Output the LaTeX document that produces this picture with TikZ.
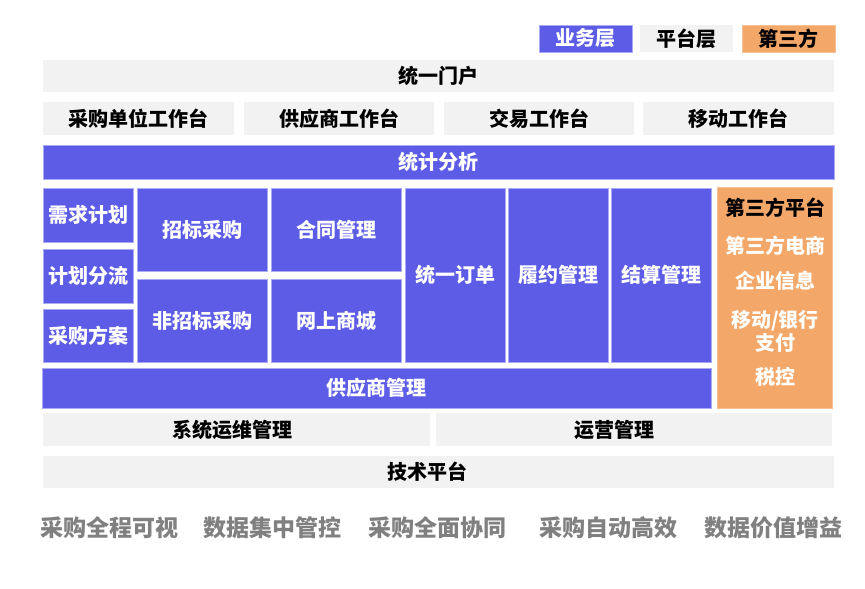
\documentclass[tikz,border=0pt]{standalone}
\usepackage{fontspec}
\setmainfont{Noto Sans CJK SC}[BoldFont={Noto Sans CJK SC Black}]
\definecolor{bizc}{RGB}{92,92,230}
\definecolor{platc}{RGB}{242,242,242}
\definecolor{thirdc}{RGB}{243,167,104}
\definecolor{notec}{RGB}{128,128,128}
\definecolor{edgec}{RGB}{170,170,245}
\newcommand\lab{\fontsize{20}{23}\selectfont\bfseries}
\newcommand\blk[7]{\node[#1,minimum width={(#4-#2)*1pt},minimum height={(#5-#3)*1pt}] (#6) at (#2,#3) {#7};}
\tikzset{
  blkbase/.style={anchor=north west, inner sep=0pt, outer sep=0pt, align=center, font=\lab},
  bizbox/.style={blkbase, fill=bizc, draw=edgec, line width=0.6pt, text=white},
  platbox/.style={blkbase, fill=platc, text=black},
  thirdbox/.style={blkbase, fill=thirdc, draw=thirdc!70!white, line width=0.6pt},
  note/.style={font=\fontsize{23}{26}\selectfont\bfseries, text=notec},
  tlab/.style={font=\lab, text=white, align=center}
}
\begin{document}
\begin{tikzpicture}[x=1pt,y=-1pt]
\fill[white] (0,0) rectangle (865,589);
\useasboundingbox (0,0) rectangle (865,589);
% legend
\blk{bizbox}{539}{25}{632}{52}{lgbiz}{业务层}
\blk{platbox}{640}{25}{733}{52}{lgplat}{平台层}
\blk{thirdbox}{742}{25}{835}{52}{lgthird}{第三方}
% top
\blk{platbox}{43}{60}{834}{92}{portal}{统一门户}
\blk{platbox}{43}{102}{234}{135}{wb1}{采购单位工作台}
\blk{platbox}{244}{102}{434}{135}{wb2}{供应商工作台}
\blk{platbox}{444}{102}{634}{135}{wb3}{交易工作台}
\blk{platbox}{643}{102}{834}{135}{wb4}{移动工作台}
\blk{bizbox}{43}{145}{834}{179}{stat}{统计分析}
% middle
\blk{bizbox}{43}{188}{133}{242}{xq}{需求计划}
\blk{bizbox}{43}{249}{133}{303}{fl}{计划分流}
\blk{bizbox}{43}{309}{133}{362}{fa}{采购方案}
\blk{bizbox}{137}{188}{267}{271}{zb}{招标采购}
\blk{bizbox}{137}{279}{267}{362}{fzb}{非招标采购}
\blk{bizbox}{271}{188}{401}{271}{ht}{合同管理}
\blk{bizbox}{271}{279}{401}{362}{sc}{网上商城}
\blk{bizbox}{405}{188}{505}{362}{dd}{统一订单}
\blk{bizbox}{508}{188}{608}{362}{ly}{履约管理}
\blk{bizbox}{611}{188}{711}{362}{js}{结算管理}
\blk{bizbox}{42}{368}{711}{408}{gys}{供应商管理}
\blk{thirdbox}{717}{187}{832}{408}{tp}{}
\node[font=\lab, text=black] (tpt) at (775,208) {第三方平台};
\node[tlab] (tp1) at (775,246) {第三方电商};
\node[tlab] (tp2) at (775,281) {企业信息};
\node[tlab] (tp3) at (775,331) {移动/银行\\支付};
\node[tlab] (tp4) at (775,377) {税控};
% bottom
\blk{platbox}{43}{413}{430}{446}{yw}{}
\node[font=\lab] (ywt) at (232,429.5) {系统运维管理};
\blk{platbox}{436}{413}{832}{446}{yy}{}
\node[font=\lab] (yyt) at (614,429.5) {运营管理};
\blk{platbox}{43}{456}{834}{488}{jspt}{}
\node[font=\lab] (jsptt) at (427,472) {技术平台};
% notes
\node[note] (n1) at (109,528) {采购全程可视};
\node[note] (n2) at (272,528) {数据集中管控};
\node[note] (n3) at (437,528) {采购全面协同};
\node[note] (n4) at (608,528) {采购自动高效};
\node[note] (n5) at (773,528) {数据价值增益};
\end{tikzpicture}
\end{document}
